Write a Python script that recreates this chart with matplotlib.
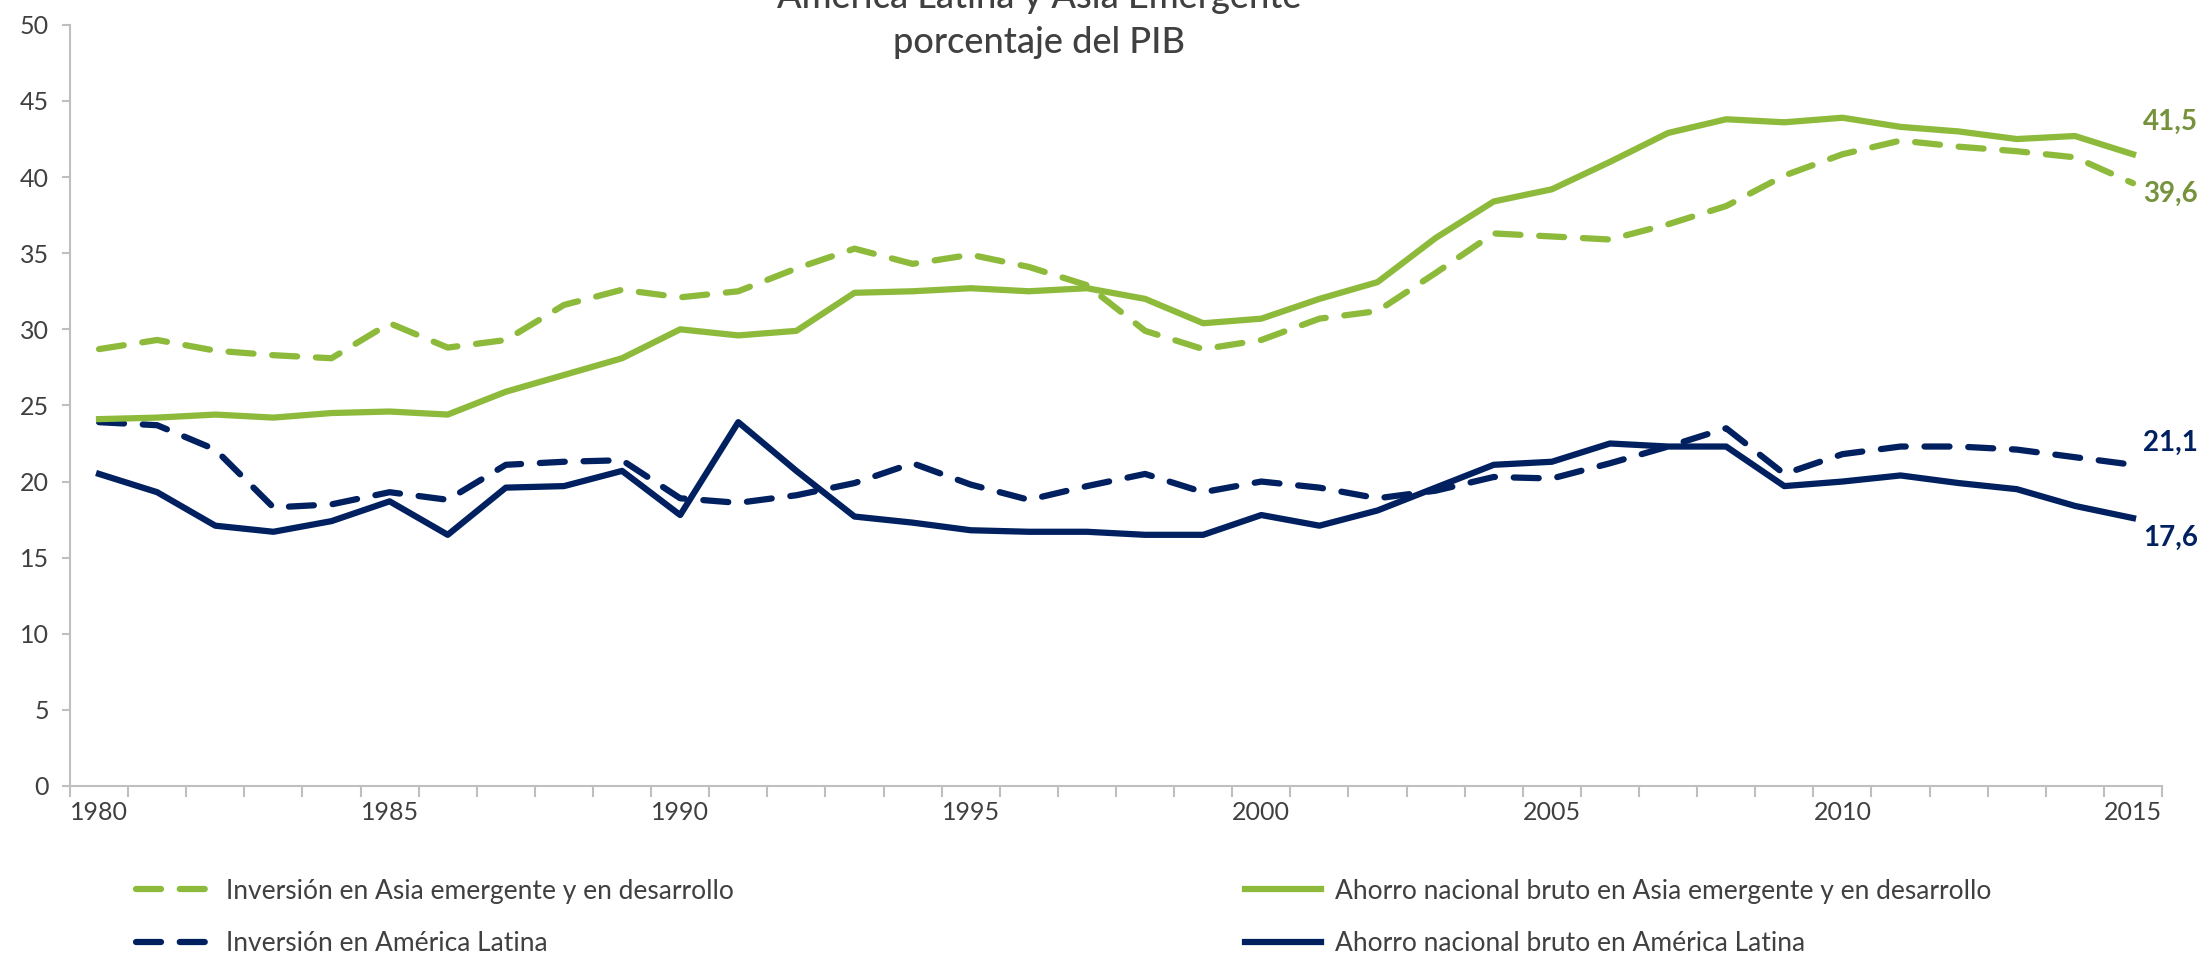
import matplotlib.pyplot as plt
import numpy as np

plt.rcParams['font.family'] = ['Lato', 'DejaVu Sans']

years = list(range(1980, 2016))

inv_asia = [28.7, 29.3, 28.6, 28.3, 28.1, 30.4, 28.8, 29.3, 31.6, 32.6,
            32.1, 32.5, 34.0, 35.3, 34.3, 34.9, 34.1, 32.9, 29.9, 28.7,
            29.3, 30.7, 31.2, 33.7, 36.3, 36.1, 35.9, 36.9, 38.1, 40.1,
            41.5, 42.4, 42.0, 41.7, 41.3, 39.6]
ahorro_asia = [24.1, 24.2, 24.4, 24.2, 24.5, 24.6, 24.4, 25.9, 27.0, 28.1,
               30.0, 29.6, 29.9, 32.4, 32.5, 32.7, 32.5, 32.7, 32.0, 30.4,
               30.7, 32.0, 33.1, 36.0, 38.4, 39.2, 41.0, 42.9, 43.8, 43.6,
               43.9, 43.3, 43.0, 42.5, 42.7, 41.5]
inv_al = [23.9, 23.7, 22.1, 18.3, 18.5, 19.3, 18.8, 21.1, 21.3, 21.4,
          18.9, 18.6, 19.1, 19.9, 21.2, 19.8, 18.8, 19.7, 20.5, 19.3,
          20.0, 19.6, 18.9, 19.4, 20.3, 20.2, 21.2, 22.3, 23.5, 20.5,
          21.8, 22.3, 22.3, 22.1, 21.6, 21.1]
ahorro_al = [20.5, 19.3, 17.1, 16.7, 17.4, 18.7, 16.5, 19.6, 19.7, 20.7,
             17.8, 23.9, 20.7, 17.7, 17.3, 16.8, 16.7, 16.7, 16.5, 16.5,
             17.8, 17.1, 18.1, 19.6, 21.1, 21.3, 22.5, 22.3, 22.3, 19.7,
             20.0, 20.4, 19.9, 19.5, 18.4, 17.6]

labels = ["Inversión en Asia emergente y en desarrollo",
          "Inversión en América Latina",
          "Ahorro nacional bruto en Asia emergente y en desarrollo",
          "Ahorro nacional bruto en América Latina"]

green = '#8DBA3B'
green_txt = '#76923C'
navy = '#002060'
grey = '#BFBFBF'
txt = '#404040'

fig = plt.figure(figsize=(22.01, 9.57), dpi=100)
ax = fig.add_axes([0.0318, 0.1787, 0.9505, 0.7953])

x = np.arange(len(years))
dash = (0, (4, 3))
lw = 4.5
ax.plot(x, inv_asia, color=green, lw=lw, ls=dash, dash_capstyle='round', label=labels[0])
ax.plot(x, inv_al, color=navy, lw=lw, ls=dash, dash_capstyle='round', label=labels[1])
ax.plot(x, ahorro_asia, color=green, lw=lw, label=labels[2])
ax.plot(x, ahorro_al, color=navy, lw=lw, label=labels[3])

ax.set_xlim(-0.5, len(years) - 0.5)
ax.set_ylim(0, 50)
ax.set_yticks(range(0, 51, 5))
ax.set_xticks(x[::5])
ax.set_xticklabels([str(y) for y in years[::5]])
ax.set_xticks(np.arange(-0.5, len(years), 1), minor=True)
ax.tick_params(axis='x', which='major', length=0, pad=11, labelsize=18, labelcolor=txt)
ax.tick_params(axis='x', which='minor', length=8, width=1.5, color=grey, direction='out')
ax.tick_params(axis='y', length=6, width=1.5, color=grey, pad=9, labelsize=18, labelcolor=txt)

for s in ['top', 'right']:
    ax.spines[s].set_visible(False)
for s in ['left', 'bottom']:
    ax.spines[s].set_color(grey)
    ax.spines[s].set_linewidth(1.5)

# end values
ends = [(ahorro_asia[-1], 23, green_txt), (inv_asia[-1], -8, green_txt),
        (inv_al[-1], 16, navy), (ahorro_al[-1], -14, navy)]
for v, dy, c in ends:
    ax.annotate(f"{v:.1f}".replace('.', ','), (x[-1], v), xytext=(7, dy),
                textcoords='offset points', ha='left', va='center',
                fontsize=20, fontweight='bold', color=c, annotation_clip=False)

fig.text(0.472, 1.003, "América Latina y Asia Emergente", ha='center', va='center',
         fontsize=26, fontweight='medium', color=txt)
fig.text(0.472, 0.956, "porcentaje del PIB", ha='center', va='center',
         fontsize=26, fontweight='medium', color=txt)

fig.legend(loc='upper left', bbox_to_anchor=(0.062, 0.082), ncol=2, frameon=False,
           fontsize=19, handlelength=2.85, handletextpad=0.53, labelspacing=1.06,
           columnspacing=19.4, borderpad=0, borderaxespad=0, labelcolor=txt)

fig.savefig('out.png', dpi=100)
